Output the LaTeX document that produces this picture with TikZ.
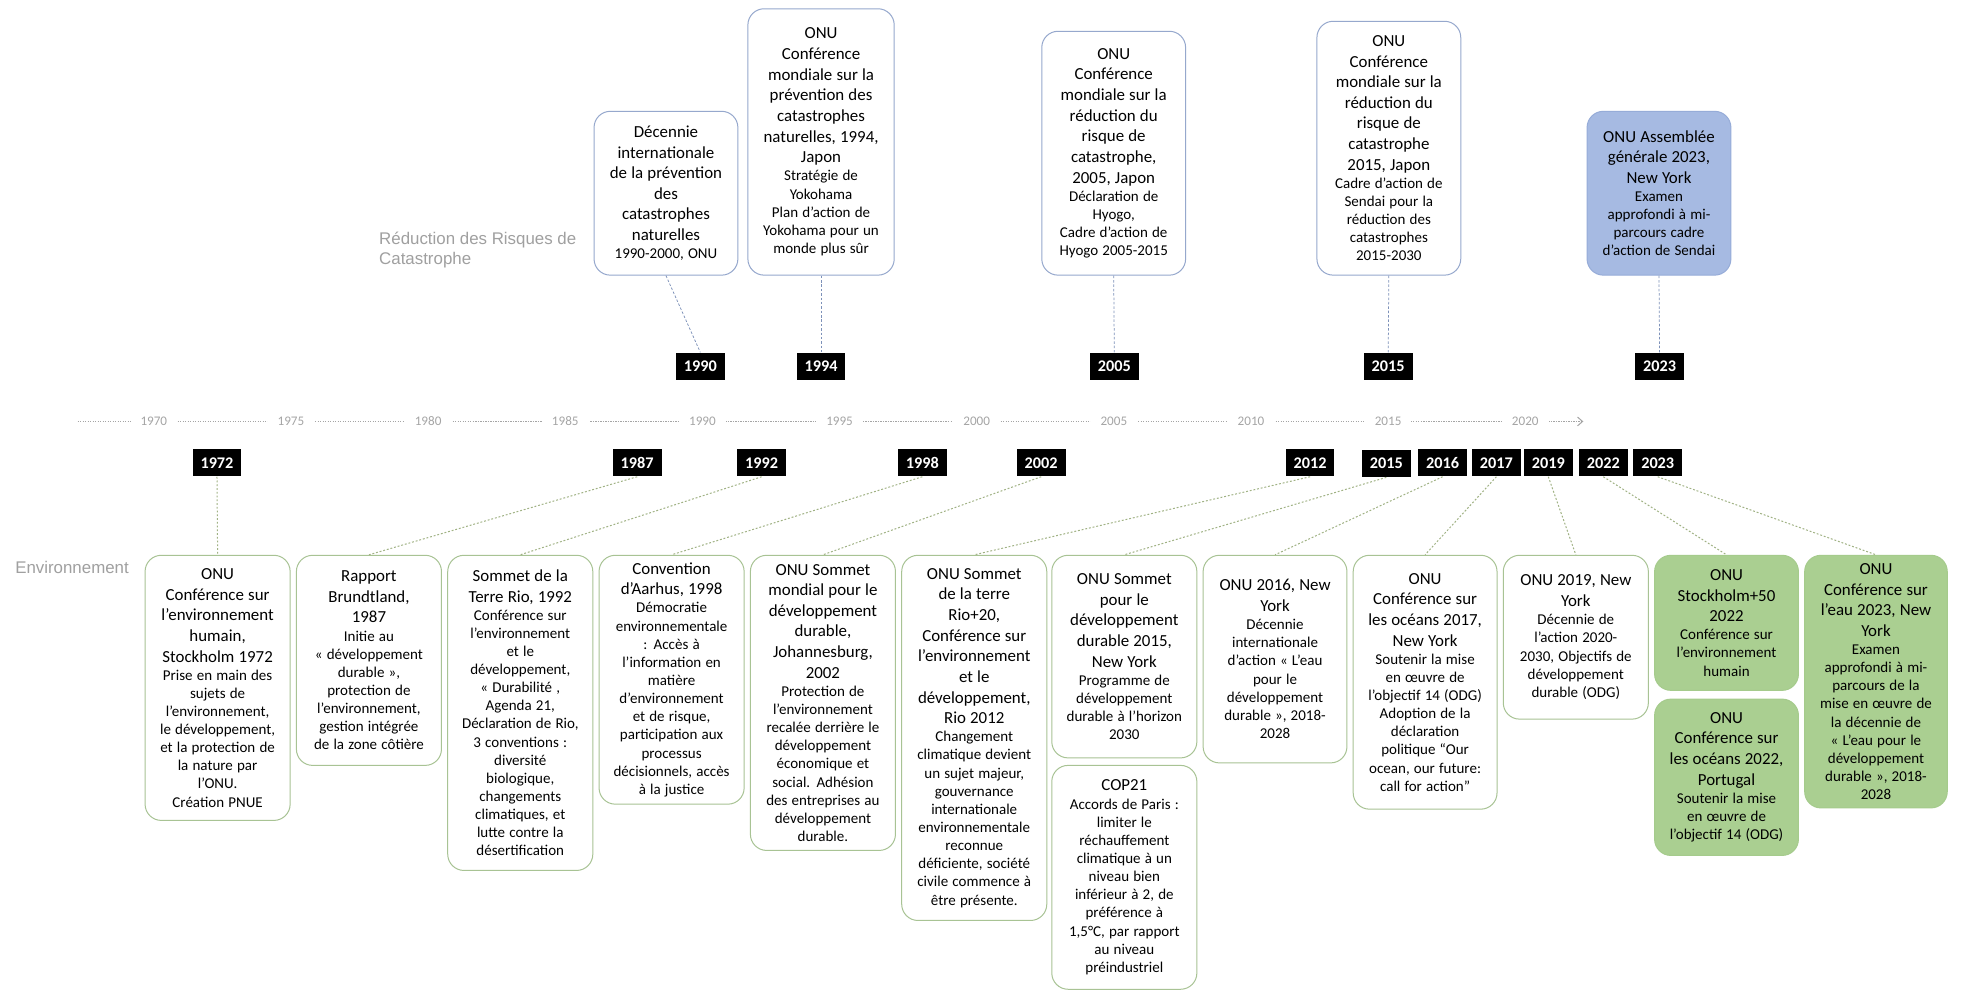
\documentclass[tikz,border=0pt]{standalone}
\usepackage{fontspec}
\setmainfont{Carlito}
\newfontfamily\helv{Liberation Sans}
\usetikzlibrary{arrows.meta}
\definecolor{topborder}{RGB}{150,168,205}
\definecolor{bluefill}{RGB}{166,186,226}
\definecolor{blueborder}{RGB}{150,172,216}
\definecolor{envborder}{RGB}{168,195,148}
\definecolor{greenfill}{RGB}{170,207,145}
\definecolor{greenborder}{RGB}{165,203,140}
\definecolor{axisgray}{RGB}{165,165,165}
\definecolor{labelgray}{RGB}{160,160,160}
\definecolor{topline}{RGB}{125,145,185}
\definecolor{botline}{RGB}{160,178,132}
\definecolor{txt}{RGB}{0,0,0}
\newcommand\ttl[1]{{\noindent\fontsize{13.5}{16.5}\selectfont #1\par}}
\newcommand\sml[1]{{\noindent\fontsize{12}{14.5}\selectfont #1\par}}
\newcommand\mkbox[8]{%
  \pgfmathsetmacro\bxw{#5-#3}%
  \pgfmathsetmacro\bxh{#6-#4}%
  \pgfmathsetmacro\bxt{#5-#3-6}%
  \node[#2, minimum width=\bxw pt, minimum height=\bxh pt, text width=\bxt pt]
    (#1) at ({(#3+#5)/2},{(#4+#6)/2}) {\ttl{#7}\sml{#8}};}
\tikzset{
  evbox/.style={rounded corners=13pt, line width=0.8pt, align=center, inner sep=2pt, text=txt},
  topbox/.style={evbox, draw=topborder, fill=white},
  bluebox/.style={evbox, draw=blueborder, fill=bluefill},
  envbox/.style={evbox, draw=envborder, fill=white},
  greenbox/.style={evbox, draw=greenborder, fill=greenfill},
  yrbox/.style={fill=black, text=white, font=\fontsize{13}{15}\selectfont\bfseries,
    minimum width=39pt, minimum height=22pt, inner sep=0pt},
  axyr/.style={fill=white, text=axisgray, font=\fontsize{10.5}{12}\selectfont, inner xsep=8pt, inner ysep=2pt},
  axisline/.style={draw=axisgray, line width=0.8pt, dash pattern=on 1pt off 1pt},
  topconn/.style={draw=topline, line width=0.6pt, dash pattern=on 2pt off 1.5pt},
  botconn/.style={draw=botline, line width=0.8pt, dash pattern=on 1.5pt off 1.5pt},
  sectlabel/.style={text=labelgray, font=\helv\fontsize{13.5}{16}\selectfont, align=left, inner sep=0pt, anchor=west}
}
\begin{document}
\begin{tikzpicture}[x=1pt, y=-1pt]
\useasboundingbox (0,0) rectangle (1568,792);
\fill[white] (0,0) rectangle (1568,792);

% section labels
\node[sectlabel] (lrrc) at (303,200) {Réduction des Risques de\\Catastrophe};
\node[sectlabel] (lenv) at (12,454) {Environnement};

% axis
\draw[axisline, -{Straight Barb[length=4pt,width=7pt]}] (62,337) -- (1266,337);
\foreach \yy [count=\i from 0] in {1970,1975,1980,1985,1990,1995,2000,2005,2010,2015,2020}
  \node[axyr] (ax\yy) at ({123+\i*109.66},337) {\yy};

% top boxes
\mkbox{t1}{topbox}{475}{89}{590}{220}{Décennie\\internationale\\de la prévention\\des\\catastrophes\\naturelles}{1990-2000, ONU}
\mkbox{t2}{topbox}{598}{7}{715}{220}{ONU\\Conférence\\mondiale sur la\\prévention des\\catastrophes\\naturelles, 1994,\\Japon}{Stratégie de\\Yokohama\\Plan d’action de\\Yokohama pour un\\monde plus sûr}
\mkbox{t3}{topbox}{833}{25}{948}{220}{ONU\\Conférence\\mondiale sur la\\réduction du\\risque de\\catastrophe,\\2005, Japon}{Déclaration de\\Hyogo,\\Cadre d’action de\\Hyogo 2005-2015}
\mkbox{t4}{topbox}{1053}{17}{1168}{220}{ONU\\Conférence\\mondiale sur la\\réduction du\\risque de\\catastrophe\\2015, Japon}{Cadre d’action de\\Sendai pour la\\réduction des\\catastrophes\\2015-2030}
\mkbox{t5}{bluebox}{1269}{89}{1384}{220}{ONU Assemblée\\générale 2023,\\New York}{Examen\\approfondi à mi-\\parcours cadre\\d’action de Sendai}

% top year labels
\node[yrbox] (y90t) at (560,293) {1990};
\node[yrbox] (y94t) at (656.5,293) {1994};
\node[yrbox] (y05t) at (891,293) {2005};
\node[yrbox] (y15t) at (1110,293) {2015};
\node[yrbox] (y23t) at (1327,293) {2023};

\draw[topconn] (t1.south) -- (y90t.north);
\draw[topconn] (t2.south) -- (y94t.north);
\draw[topconn] (t3.south) -- (y05t.north);
\draw[topconn] (t4.south) -- (y15t.north);
\draw[topconn] (t5.south) -- (y23t.north);

% bottom year labels
\node[yrbox] (y72) at (173.5,370) {1972};
\node[yrbox] (y87) at (509.5,370) {1987};
\node[yrbox] (y92) at (609,370) {1992};
\node[yrbox] (y98) at (737.5,370) {1998};
\node[yrbox] (y02) at (832.5,370) {2002};
\node[yrbox] (y12) at (1047.5,370) {2012};
\node[yrbox] (y15b) at (1108.5,370.5) {2015};
\node[yrbox] (y16) at (1153.5,370) {2016};
\node[yrbox] (y17) at (1196.5,370) {2017};
\node[yrbox] (y19) at (1238,370) {2019};
\node[yrbox] (y22) at (1282,370) {2022};
\node[yrbox] (y23b) at (1325.5,370) {2023};

% bottom boxes
\mkbox{b1}{envbox}{116}{444}{232}{656}{ONU\\Conférence sur\\l’environnement\\humain,\\Stockholm 1972}{Prise en main des\\sujets de\\l’environnement,\\le développement,\\et la protection de\\la nature par\\l’ONU.\\Création PNUE}
\mkbox{b2}{envbox}{237}{444}{353}{612}{Rapport\\Brundtland,\\1987}{Initie au\\« développement\\durable »,\\protection de\\l’environnement,\\gestion intégrée\\de la zone côtière}
\mkbox{b3}{envbox}{358}{444}{474}{696}{Sommet de la\\Terre Rio, 1992}{Conférence sur\\l’environnement\\et le\\développement,\\« Durabilité ,\\Agenda 21,\\Déclaration de Rio,\\3 conventions :\\diversité\\biologique,\\changements\\climatiques, et\\lutte contre la\\désertification}
\mkbox{b4}{envbox}{479}{444}{595}{643}{Convention\\d’Aarhus, 1998}{Démocratie\\environnementale\\: Accès à\\l’information en\\matière\\d’environnement\\et de risque,\\participation aux\\processus\\décisionnels, accès\\à la justice}
\mkbox{b5}{envbox}{600}{444}{716}{680}{ONU Sommet\\mondial pour le\\développement\\durable,\\Johannesburg,\\2002}{Protection de\\l’environnement\\recalée derrière le\\développement\\économique et\\social. Adhésion\\des entreprises au\\développement\\durable.}
\mkbox{b6}{envbox}{721}{444}{837}{736}{ONU Sommet\\de la terre\\Rio+20,\\Conférence sur\\l’environnement\\et le\\développement,\\Rio 2012}{Changement\\climatique devient\\un sujet majeur,\\gouvernance\\internationale\\environnementale\\reconnue\\déficiente, société\\civile commence à\\être présente.}
\mkbox{b7}{envbox}{841}{444}{957}{606}{ONU Sommet\\pour le\\développement\\durable 2015,\\New York}{Programme de\\développement\\durable à l’horizon\\2030}
\mkbox{b8}{envbox}{841}{612}{957}{791}{COP21}{Accords de Paris :\\limiter le\\réchauffement\\climatique à un\\niveau bien\\inférieur à 2, de\\préférence à\\1,5°C, par rapport\\au niveau\\préindustriel}
\mkbox{b9}{envbox}{962}{444}{1077}{610}{ONU 2016, New\\York}{Décennie\\internationale\\d’action « L’eau\\pour le\\développement\\durable », 2018-\\2028}
\mkbox{b10}{envbox}{1082}{444}{1197}{647}{ONU\\Conférence sur\\les océans 2017,\\New York}{Soutenir la mise\\en œuvre de\\l’objectif 14 (ODG)\\Adoption de la\\déclaration\\politique “Our\\ocean, our future:\\call for action”}
\mkbox{b11}{envbox}{1202}{444}{1318}{575}{ONU 2019, New\\York}{Décennie de\\l’action 2020-\\2030, Objectifs de\\développement\\durable (ODG)}
\mkbox{b12}{greenbox}{1323}{444}{1438}{552}{ONU\\Stockholm+50\\2022}{Conférence sur\\l’environnement\\humain}
\mkbox{b13}{greenbox}{1323}{559}{1438}{684}{ONU\\Conférence sur\\les océans 2022,\\Portugal}{Soutenir la mise\\en œuvre de\\l’objectif 14 (ODG)}
\mkbox{b14}{greenbox}{1443}{444}{1557}{646}{ONU\\Conférence sur\\l’eau 2023, New\\York}{Examen\\approfondi à mi-\\parcours de la\\mise en œuvre de\\la décennie de\\« L’eau pour le\\développement\\durable », 2018-\\2028}

% bottom connectors
\draw[botconn] (y72.south) -- (b1.north);
\draw[botconn] (y87.south) -- (b2.north);
\draw[botconn] (y92.south) -- (b3.north);
\draw[botconn] (y98.south) -- (b4.north);
\draw[botconn] (y02.south) -- (b5.north);
\draw[botconn] (y12.south) -- (b6.north);
\draw[botconn] (y15b.south) -- (b7.north);
\draw[botconn] (y16.south) -- (b9.north);
\draw[botconn] (y17.south) -- (b10.north);
\draw[botconn] (y19.south) -- (b11.north);
\draw[botconn] (y22.south) -- (b12.north);
\draw[botconn] (y23b.south) -- (b14.north);
\end{tikzpicture}
\end{document}
